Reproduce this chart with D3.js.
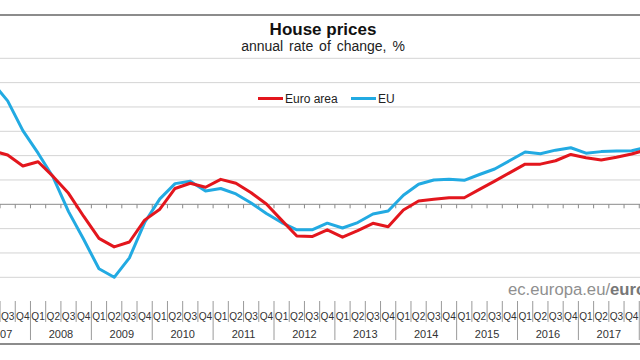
<!DOCTYPE html>
<html><head><meta charset="utf-8">
<script src="https://cdn.jsdelivr.net/npm/d3@7"></script>
<style>
html,body{margin:0;padding:0;background:#fff;}
svg{display:block;font-family:"Liberation Sans",Arial,sans-serif;}
</style></head>
<body>
<svg id="chart" width="640" height="360"></svg>
<script>
const quarters = [];
for (let y = 2007; y <= 2018; y++) for (let q = 1; q <= 4; q++) { if (y === 2018 && q > 1) break; quarters.push(y + "Q" + q); }
const years = ["2007","2008","2009","2010","2011","2012","2013","2014","2015","2016","2017"];
const euroArea = [null,4.4,4.05,3.15,3.5,2.27,0.9,-1.0,-2.8,-3.5,-3.1,-1.3,-0.4,1.3,1.73,1.4,2.05,1.73,0.95,0.02,-1.3,-2.6,-2.65,-2.1,-2.7,-2.17,-1.56,-1.84,-0.47,0.27,0.41,0.54,0.54,1.23,1.9,2.6,3.3,3.3,3.58,4.1,3.83,3.64,3.86,4.13,4.5];
const eu = [null,10.0,8.5,6.05,4.2,2.2,-0.6,-2.9,-5.3,-6.0,-4.4,-1.5,0.45,1.7,1.9,1.1,1.3,0.85,0.1,-0.75,-1.5,-2.1,-2.1,-1.55,-1.95,-1.5,-0.8,-0.55,0.75,1.65,2.0,2.05,1.97,2.45,2.9,3.6,4.3,4.15,4.45,4.65,4.2,4.33,4.38,4.4,4.7];
const yTicks = [-6,-4,-2,2,4,6,8,10,12];
const seriesNames = ["Euro area","EU"];
const colors = ["#e3161d","#22aae2"];

const svg = d3.select("#chart");
const bw = 15.22;
const x = d3.scaleBand().domain(quarters).range([-30.4, -30.4 + bw * quarters.length]).padding(0);
const y = d3.scaleLinear().domain([-6, 12]).range([277.3, 58.3]);
const cx = d => x(d) + x.bandwidth() / 2;

// frame lines
svg.append("line").attr("x1",0).attr("x2",640).attr("y1",15).attr("y2",15).attr("stroke","#666").attr("stroke-width",1.5);
svg.append("line").attr("x1",0).attr("x2",640).attr("y1",344).attr("y2",344).attr("stroke","#666").attr("stroke-width",1.5);

// title
svg.append("text").attr("x",323).attr("y",34.5).attr("text-anchor","middle").attr("font-size",17).attr("font-weight","bold").attr("fill","#111").text("House prices");
svg.append("text").attr("x",323).attr("y",50.5).attr("text-anchor","middle").attr("font-size",14).attr("fill","#222").attr("word-spacing",2).text("annual rate of change, %");

// gridlines
svg.append("g").selectAll("line").data(yTicks).join("line")
  .attr("x1",0).attr("x2",640).attr("y1",d=>y(d)).attr("y2",d=>y(d))
  .attr("stroke","#d4d4d4").attr("stroke-width",1);

// zero axis with ticks at band boundaries
const axis = d3.axisBottom(x).tickSize(0).tickFormat("");
const gAxis = svg.append("g").attr("transform",`translate(0,${y(0)})`).call(axis);
gAxis.select(".domain").remove();
gAxis.append("line").attr("x1",0).attr("x2",640).attr("stroke","#8a8a8a").attr("stroke-width",1);
gAxis.selectAll(".bt").data(quarters).join("line").attr("class","bt")
  .attr("x1",d=>x(d)).attr("x2",d=>x(d)).attr("y1",0).attr("y2",4).attr("stroke","#8a8a8a");

// lines
const series = [euroArea, eu];
const line = d3.line().defined(d=>d.v!=null).x(d=>cx(d.q)).y(d=>y(d.v));
[1,0].forEach(i=>{
  svg.append("path").datum(quarters.map((q,j)=>({q, v: series[i][j]})))
    .attr("d", line).attr("fill","none").attr("stroke",colors[i]).attr("stroke-width",3).attr("stroke-linejoin","round");
});

// legend
const legX = [258, 351];
seriesNames.forEach((n,i)=>{
  svg.append("line").attr("x1",legX[i]).attr("x2",legX[i]+25).attr("y1",98.5).attr("y2",98.5).attr("stroke",colors[i]).attr("stroke-width",3);
  svg.append("text").attr("x",legX[i]+27).attr("y",102.5).attr("font-size",12).attr("fill","#222").text(n);
});

// source
const src = svg.append("text").attr("x",508).attr("y",295).attr("font-size",16.7).attr("fill","#8f8f8f");
src.append("tspan").text("ec.europa.eu/");
src.append("tspan").attr("font-weight","bold").attr("fill","#777").text("eurostat");

// category table
const gq = svg.append("g");
gq.selectAll("line").data(quarters).join("line")
  .attr("x1",d=>x(d)).attr("x2",d=>x(d))
  .attr("y1",301).attr("y2",d=>d.endsWith("Q1")?340:322)
  .attr("stroke","#9a9a9a").attr("stroke-width",1);
gq.selectAll("text").data(quarters).join("text")
  .attr("x",d=>cx(d)).attr("y",319.5).attr("text-anchor","middle")
  .attr("font-size",11.5).attr("fill","#333")
  .attr("textLength",13.5).attr("lengthAdjust","spacingAndGlyphs")
  .text(d=>d.slice(4));
svg.append("g").selectAll("text").data(years).join("text")
  .attr("x",d=>(x(d+"Q2")+x(d+"Q4"))/2)
  .attr("y",337.5).attr("text-anchor","middle").attr("font-size",11).attr("fill","#333")
  .text(d=>d);
</script>
</body></html>
